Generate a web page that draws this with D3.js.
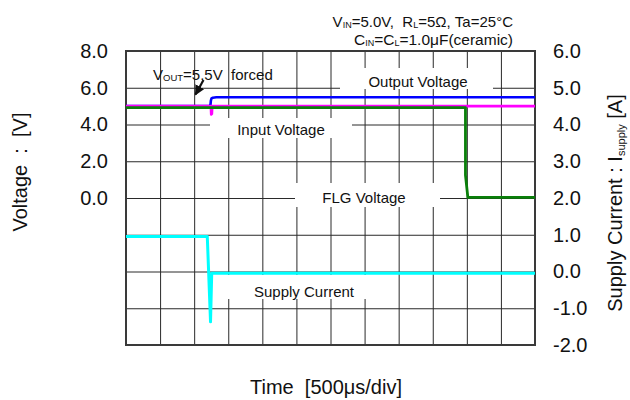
<!DOCTYPE html>
<html><head><meta charset="utf-8">
<script src="https://cdn.jsdelivr.net/npm/d3@7/dist/d3.min.js"></script>
<style>
body{margin:0;background:#fff}
text{font-family:"Liberation Sans",Arial,sans-serif;fill:#111;white-space:pre}
</style>
</head><body>
<svg id="chart" width="630" height="400"></svg>
<script>
// ---- data (time in divisions of 500us) ----
const timeDivs = [0,1,2,3,4,5,6,7,8,9,10,11,12];
const voltTickLabels = [8,6,4,2,0];
const voltGridValues = [-8,-6,-4,-2,0,2,4,6,8];
const currTickLabels = [6,5,4,3,2,1,0,-1,-2];

const outputT = [0, 2.47, 2.48, 2.49, 2.51, 2.55, 2.65, 12];
const outputV = [5.0, 5.0, 5.1, 5.3, 5.42, 5.46, 5.48, 5.48];

const inputT = [0, 2.49, 2.50, 2.52, 2.53, 12];
const inputV = [5.0, 5.0, 4.55, 4.58, 5.0, 5.0];

const flgT = [0, 9.96, 9.96, 10.03, 12];
const flgV = [4.92, 4.92, 1.25, 0.03, 0.03];

const currT = [0, 2.385, 2.48, 2.515, 12];
const currA = [0.95, 0.95, -1.37, -0.05, -0.05];

// ---- layout ----
const svg = d3.select("#chart");
const L = 126, R = 535, T = 51, B = 345;
const x = d3.scaleLinear().domain([0,12]).range([L,R]);
const yV = d3.scaleLinear().domain([-8,8]).range([B,T]);
const yI = d3.scaleLinear().domain([-2,6]).range([B,T]);
const fmt = d => d.toFixed(1);

// grid via axes
svg.append("g").attr("transform",`translate(0,${B})`)
  .call(d3.axisBottom(x).tickValues(timeDivs).tickSize(-(B-T)).tickFormat(""))
  .call(g=>g.select(".domain").remove())
  .call(g=>g.selectAll("line").attr("stroke","#2a2a2a").attr("stroke-width",1));
svg.append("g").attr("transform",`translate(${L},0)`)
  .call(d3.axisLeft(yV).tickValues(voltGridValues).tickSize(-(R-L)).tickFormat(""))
  .call(g=>g.select(".domain").remove())
  .call(g=>g.selectAll("line").attr("stroke","#2a2a2a").attr("stroke-width",1));

// label boxes (white) over grid
const boxes = [
  {x:340,y:68,w:153,h:21},
  {x:210,y:118,w:142,h:20},
  {x:295,y:183,w:145,h:24},
  {x:214,y:275,w:152,h:24}
];
svg.selectAll("rect.box").data(boxes).enter().append("rect")
  .attr("x",d=>d.x).attr("y",d=>d.y).attr("width",d=>d.w).attr("height",d=>d.h)
  .attr("fill","#fff");

// border
svg.append("rect").attr("x",L).attr("y",T).attr("width",R-L).attr("height",B-T)
  .attr("fill","none").attr("stroke","#3a3a3a").attr("stroke-width",2);

// tick labels via axes
svg.append("g").attr("transform",`translate(${L},0)`)
  .call(d3.axisLeft(yV).tickValues(voltTickLabels).tickSize(0).tickPadding(18).tickFormat(fmt))
  .call(g=>g.select(".domain").remove())
  .call(g=>g.selectAll("text").attr("font-size",20).attr("fill","#111").attr("font-family",null));
svg.append("g").attr("transform",`translate(${R},0)`)
  .call(d3.axisRight(yI).tickValues(currTickLabels).tickSize(0).tickPadding(18).tickFormat(fmt))
  .call(g=>g.select(".domain").remove())
  .call(g=>g.selectAll("text").attr("font-size",20).attr("fill","#111").attr("font-family",null));

// series
const lineV = d3.line().x(d=>x(d[0])).y(d=>yV(d[1]));
const lineI = d3.line().x(d=>x(d[0])).y(d=>yI(d[1]));
const series = [
  {t:outputT, v:outputV, color:"#0000ff", w:2.6, gen:lineV},
  {t:inputT, v:inputV, color:"#ff00ff", w:2.6, gen:lineV},
  {t:flgT, v:flgV, color:"#0a7f0a", w:2.8, gen:lineV},
  {t:currT, v:currA, color:"#00ffff", w:3, gen:lineI}
];
series.forEach(s=>{
  svg.append("path").datum(d3.zip(s.t,s.v)).attr("d",s.gen)
    .attr("fill","none").attr("stroke",s.color).attr("stroke-width",s.w)
    .attr("stroke-linejoin","round");
});

// series labels
const labels = [
  {text:"Output Voltage", x:418, y:87},
  {text:"Input Voltage", x:281, y:135},
  {text:"FLG Voltage", x:364, y:203},
  {text:"Supply Current", x:304, y:297}
];
svg.selectAll("text.lab").data(labels).enter().append("text")
  .attr("x",d=>d.x).attr("y",d=>d.y).attr("text-anchor","middle")
  .attr("font-size",15).text(d=>d.text);

// conditions
const c1 = svg.append("text").attr("x",513).attr("y",26.5).attr("text-anchor","end").attr("font-size",15);
c1.append("tspan").text("V");
c1.append("tspan").attr("font-size",9).attr("dy",1).text("IN");
c1.append("tspan").attr("dy",-1).text("=5.0V,  R");
c1.append("tspan").attr("font-size",9).attr("dy",1).text("L");
c1.append("tspan").attr("dy",-1).text("=5Ω, Ta=25°C");
const c2 = svg.append("text").attr("x",513).attr("y",45).attr("text-anchor","end").attr("font-size",15.5);
c2.append("tspan").text("C");
c2.append("tspan").attr("font-size",9).attr("dy",1).text("IN");
c2.append("tspan").attr("dy",-1).text("=C");
c2.append("tspan").attr("font-size",9).attr("dy",1).text("L");
c2.append("tspan").attr("dy",-1).text("=1.0μF(ceramic)");

// forced annotation
const fa = svg.append("text").attr("x",153).attr("y",79.5).attr("font-size",15);
fa.append("tspan").text("V");
fa.append("tspan").attr("font-size",9.5).attr("dy",1).text("OUT");
fa.append("tspan").attr("dy",-1).text("=5.5V  forced");

svg.append("defs").append("marker").attr("id","ah").attr("viewBox","0 0 10 10")
  .attr("refX",9).attr("refY",5).attr("markerWidth",10).attr("markerHeight",10)
  .attr("markerUnits","userSpaceOnUse").attr("orient","auto")
  .append("path").attr("d","M0,0L10,5L0,10z").attr("fill","#111");
svg.append("line").attr("x1",203.5).attr("y1",80).attr("x2",195.5).attr("y2",94.5)
  .attr("stroke","#111").attr("stroke-width",2.2).attr("marker-end","url(#ah)");

// axis titles
svg.append("text").attr("x",326).attr("y",394).attr("text-anchor","middle")
  .attr("font-size",20).text("Time  [500μs/div]");
svg.append("text").attr("transform","translate(27,172) rotate(-90)").attr("text-anchor","middle")
  .attr("font-size",20).text("Voltage  :  [V]");
const rt = svg.append("text").attr("transform","translate(622,203) rotate(-90)").attr("text-anchor","middle")
  .attr("font-size",20);
rt.append("tspan").text("Supply Current : I");
rt.append("tspan").attr("font-size",11).attr("dy",3).text("supply");
rt.append("tspan").attr("dy",-3).text(" [A]");
</script>
</body></html>
